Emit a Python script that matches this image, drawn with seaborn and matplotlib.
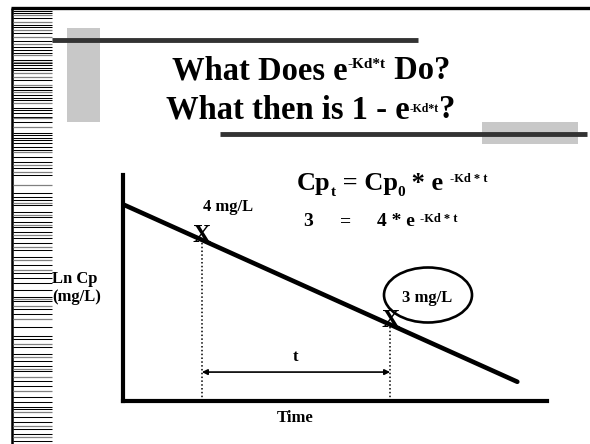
import numpy as np
import matplotlib
matplotlib.use("Agg")
import matplotlib.pyplot as plt
from matplotlib.patches import Rectangle, Ellipse
import seaborn as sns

# decline of Ln Cp with time (axis units 0-10 on both axes)
time = [0.0, 9.3]
ln_cp = [8.7, 0.85]

# the two marked concentrations
mark_time = [1.86, 6.3]
mark_lncp = [7.13, 3.38]
mark_conc = [4, 3]

# decorative strip on the left edge (pixel rows)
stripe_black = [11, 13, 18, 25, 27, 33, 41, 47, 50, 53, 60, 63, 65, 68, 70, 80, 87, 90,
                95, 98, 100, 108, 110, 113, 117, 122, 133, 135, 138, 140, 143, 147,
                150, 157, 162, 168, 175, 193, 197, 200, 205, 212, 217, 222, 227, 232,
                238, 243, 250, 257, 265, 273, 278, 283, 290, 297, 301, 309, 314, 327,
                336, 339, 347, 354, 361, 366, 371, 381, 386, 397, 402, 407, 409, 417,
                422, 429, 434, 441]
stripe_gray = [15, 22, 30, 37, 44, 55, 62, 73, 77, 85, 92, 103, 118, 127,
               152, 165, 172, 185, 203, 215, 225, 235, 247, 260, 270, 299, 306,
               319, 344, 357, 369, 377, 391, 412, 426, 437]

sns.set_style("white")
plt.rcParams["font.family"] = ["Liberation Serif", "DejaVu Serif"]
plt.rcParams["font.weight"] = "bold"
plt.rcParams["text.color"] = "black"
plt.rcParams["axes.labelcolor"] = "black"

fig = plt.figure(figsize=(5.9, 4.44), dpi=100)

# slide background drawn in pixel coordinates
bg = fig.add_axes([0, 0, 1, 1], zorder=0)
bg.set_xlim(0, 590)
bg.set_ylim(444, 0)
bg.axis("off")

bg.plot([11, 590], [8, 8], color="black", lw=2.4, solid_capstyle="butt")
bg.plot([12, 12], [8, 444], color="black", lw=1.8, solid_capstyle="butt")
bg.hlines(stripe_black, 13, 52, color="black", lw=0.75)
bg.hlines(stripe_gray, 13, 52, color="#808080", lw=0.9)

bg.add_patch(Rectangle((67, 28), 33, 94, color="#c8c8c8", lw=0))
bg.plot([52, 418], [40, 40], color="#333333", lw=3.5, solid_capstyle="butt")
bg.add_patch(Rectangle((482, 122), 96, 22, color="#c8c8c8", lw=0))
bg.plot([220, 587], [134, 134], color="#333333", lw=3.5, solid_capstyle="butt")


def chain(prev, s, size, yref=None, yfrac=0.0, va="bottom", dy=0):
    # put a text piece right after the previous one
    ycoord = prev if yref is None else yref
    return bg.annotate(s, xy=(1, yfrac), xycoords=(prev, ycoord),
                       xytext=(0, dy), textcoords="offset points",
                       fontsize=size, va=va, ha="left", fontweight="bold")


# title
t1 = bg.text(172, 79, "What Does e", fontsize=23.5, va="baseline", ha="left")
s1 = chain(t1, "-Kd*t", 11, yfrac=1.0, va="top", dy=-2)
chain(s1, " Do?", 23.5, yref=t1, yfrac=0.0)

t2 = bg.text(166, 118, "What then is 1 - e", fontsize=23.5, va="baseline", ha="left")
s2 = chain(t2, "-Kd*t", 8.5, yfrac=0.72, va="top")
chain(s2, "?", 23.5, yref=t2, yfrac=0.0)

# equations
e1 = bg.text(297, 190, "Cp", fontsize=19, va="baseline", ha="left")
b1 = chain(e1, "t", 11, yfrac=0.0, va="bottom", dy=-3)
e1b = chain(b1, " = Cp", 19, yref=e1)
b2 = chain(e1b, "0", 11, yref=e1, yfrac=0.0, va="bottom", dy=-3)
e1c = chain(b2, " * e ", 19, yref=e1)
chain(e1c, "-Kd * t", 9, yref=e1, yfrac=1.0, va="top", dy=-1)

bg.text(303, 226, "3", fontsize=14, va="baseline", ha="left")
bg.text(340, 226, "=", fontsize=14, va="baseline", ha="left")
e2 = bg.text(377, 226, "4 * e ", fontsize=14, va="baseline", ha="left")
chain(e2, "-Kd * t", 9, yfrac=1.0, va="top", dy=0)

bg.add_patch(Ellipse((428, 295), 88, 55, fill=False, ec="black", lw=1.9))

# chart
ax = fig.add_axes([123 / 590, 1 - 401 / 444, 424 / 590, 226 / 444], zorder=1)
ax.patch.set_alpha(0)
sns.lineplot(x=time, y=ln_cp, ax=ax, color="black", lw=3.3)
ax.set_xlim(0, 10)
ax.set_ylim(0, 10)
ax.set_xticks([])
ax.set_yticks([])
sns.despine(ax=ax)
for side in ["left", "bottom"]:
    ax.spines[side].set_linewidth(3.0)
    ax.spines[side].set_color("black")

ax.vlines(mark_time, 0, mark_lncp, color="black", lw=1.1, linestyles=(0, (1, 1.5)))
for t, v in zip(mark_time, mark_lncp):
    ax.annotate("X", xy=(t, v), xytext=(0, 3), textcoords="offset points",
                ha="center", va="center", fontsize=18, fontweight="bold")

ax.annotate(f"{mark_conc[0]} mg/L", xy=(mark_time[0], mark_lncp[0]), xytext=(19, 24),
            textcoords="offset points", ha="center", va="center", fontsize=12)
ax.annotate(f"{mark_conc[1]} mg/L", xy=(mark_time[1], mark_lncp[1]), xytext=(27, 19),
            textcoords="offset points", ha="center", va="center", fontsize=12)

ax.annotate("", xy=(mark_time[0], 1.28), xytext=(mark_time[1], 1.28),
            arrowprops=dict(arrowstyle="<|-|>", color="black", lw=1.2,
                            mutation_scale=8, shrinkA=0, shrinkB=0))
ax.text(np.mean(mark_time), 1.95, "t", ha="center", va="center", fontsize=12)

ax.set_xlabel("Time", fontsize=12, fontweight="bold")
ax.xaxis.set_label_coords(0.406, -0.04)
ax.xaxis.label.set_va("top")
ax.set_ylabel("Ln Cp\n(mg/L)", fontsize=12, fontweight="bold", rotation=0,
              ha="left", va="center", multialignment="left")
ax.yaxis.set_label_coords(-0.1675, 0.5)

fig.savefig("out.png", dpi=100)
